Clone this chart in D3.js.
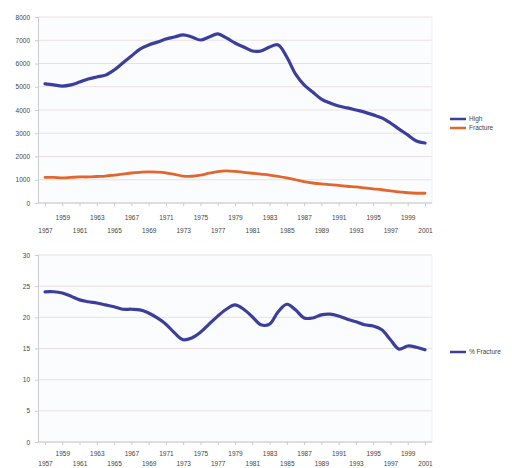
<!DOCTYPE html>
<html>
<head>
<meta charset="utf-8">
<script src="https://cdn.jsdelivr.net/npm/d3@7"></script>
<style>
  html, body { margin: 0; padding: 0; background: #ffffff; }
  svg { display: block; }
  text { font-family: "Liberation Sans", Arial, sans-serif; fill: #444; }
</style>
</head>
<body>
<svg id="chart" width="512" height="468"></svg>
<script>
// Annual categories, 1957-2001
const years = d3.range(1957, 2002);

// Upper panel series
const highValues = [
  5120, 5080, 5030, 5080, 5200, 5330, 5420, 5500, 5720, 6020,
  6320, 6620, 6800, 6920, 7050, 7140, 7230, 7140, 7010, 7140,
  7270, 7100, 6880, 6710, 6540, 6540, 6710, 6800, 6280, 5550,
  5080, 4770, 4470, 4300, 4170, 4090, 4000, 3910, 3790, 3660,
  3440, 3180, 2930, 2670, 2580
];
const fractureValues = [
  1100, 1100, 1080, 1100, 1120, 1120, 1140, 1160, 1200, 1240,
  1290, 1320, 1340, 1330, 1300, 1230, 1160, 1150, 1200, 1280,
  1350, 1380, 1360, 1320, 1280, 1240, 1200, 1150, 1080, 1000,
  920, 860, 820, 790, 760, 720, 690, 650, 610, 570,
  520, 480, 440, 420, 420
];

// Lower panel series
const ratioValues = [
  24.1, 24.1, 23.9, 23.4, 22.8, 22.5, 22.3, 22.0, 21.7, 21.3,
  21.3, 21.2, 20.7, 19.9, 18.9, 17.5, 16.4, 16.7, 17.6, 18.9,
  20.2, 21.3, 22.0, 21.3, 20.1, 18.8, 18.9, 20.9, 22.1, 21.2,
  19.9, 19.9, 20.4, 20.5, 20.2, 19.7, 19.3, 18.8, 18.6, 18.0,
  16.4, 14.9, 15.4, 15.2, 14.8
];

// Axis ticks
const topTicks = [0, 1000, 2000, 3000, 4000, 5000, 6000, 7000, 8000];
const bottomTicks = [0, 5, 10, 15, 20, 25, 30];
const labelYears = years.filter((y, i) => i % 2 === 0);

const topLegend = ["High", "Fracture"];
const bottomLegend = ["% Fracture"];

const blue = "#3b3e9a";
const orange = "#e2672e";

const svg = d3.select("#chart");

const x = d3.scalePoint().domain(years).range([45, 425]);

function panel(cfg) {
  const g = svg.append("g");
  const y = d3.scaleLinear().domain(cfg.domain).range([cfg.bottom, cfg.top]);

  // plot background
  g.append("rect")
    .attr("x", 38).attr("y", cfg.top)
    .attr("width", 394).attr("height", cfg.bottom - cfg.top)
    .attr("fill", "#fbfcfe");

  // horizontal gridlines
  g.append("g")
    .selectAll("line")
    .data(cfg.ticks)
    .join("line")
    .attr("x1", 38).attr("x2", 432)
    .attr("y1", d => y(d)).attr("y2", d => y(d))
    .attr("stroke", "#eadfe0").attr("stroke-width", 1);

  // right border of the plot area
  g.append("line")
    .attr("x1", 432).attr("x2", 432)
    .attr("y1", cfg.top).attr("y2", cfg.bottom)
    .attr("stroke", "#eef0f6");

  // y axis
  const ya = g.append("g")
    .attr("transform", "translate(38,0)")
    .call(d3.axisLeft(y).tickValues(cfg.ticks).tickFormat(d3.format("d")).tickSize(3).tickPadding(5));
  ya.select(".domain").attr("stroke", "#ccc");
  ya.selectAll(".tick line").attr("stroke", "#ccc");
  ya.selectAll("text").attr("font-size", 6.5).attr("fill", "#444");

  // x axis with staggered labels
  const xa = g.append("g")
    .attr("transform", `translate(0,${cfg.bottom})`)
    .call(d3.axisBottom(x).tickValues(labelYears).tickSize(3).tickPadding(4));
  xa.select(".domain").attr("stroke", "#ccc").attr("d", `M38,0H432`);
  xa.selectAll(".tick line").attr("stroke", "#ccc");
  xa.selectAll(".tick text")
    .attr("font-size", 6.5).attr("fill", "#444")
    .attr("dy", (d, i) => (i % 2 === 0 ? cfg.rowB : cfg.rowA));

  // series lines
  const line = d3.line()
    .x((d, i) => x(years[i]))
    .y(d => y(d))
    .curve(d3.curveCatmullRom.alpha(0.5));
  cfg.series.forEach(s => {
    g.append("path")
      .attr("d", line(s.values))
      .attr("fill", "none")
      .attr("stroke", s.color)
      .attr("stroke-width", s.width)
      .attr("stroke-linejoin", "round")
      .attr("stroke-linecap", "round");
  });

  // legend
  cfg.series.forEach((s, i) => {
    const ly = cfg.legendY + i * 9;
    g.append("line")
      .attr("x1", 450).attr("x2", 466)
      .attr("y1", ly).attr("y2", ly)
      .attr("stroke", s.color).attr("stroke-width", 2.5);
    g.append("text")
      .attr("x", 469).attr("y", ly)
      .attr("dy", "0.35em")
      .attr("font-size", 6.5).attr("fill", "#444")
      .text(s.name);
  });
  return y;
}

panel({
  domain: [0, 8000], top: 17, bottom: 203, ticks: topTicks,
  rowA: "1.6em", rowB: "3.5em", legendY: 119,
  series: [
    { name: topLegend[0], values: highValues, color: blue, width: 3.2 },
    { name: topLegend[1], values: fractureValues, color: orange, width: 2.8 }
  ]
});

panel({
  domain: [0, 30], top: 255, bottom: 442, ticks: bottomTicks,
  rowA: "1.1em", rowB: "2.6em", legendY: 352,
  series: [
    { name: bottomLegend[0], values: ratioValues, color: blue, width: 3.2 }
  ]
});
</script>
</body>
</html>
